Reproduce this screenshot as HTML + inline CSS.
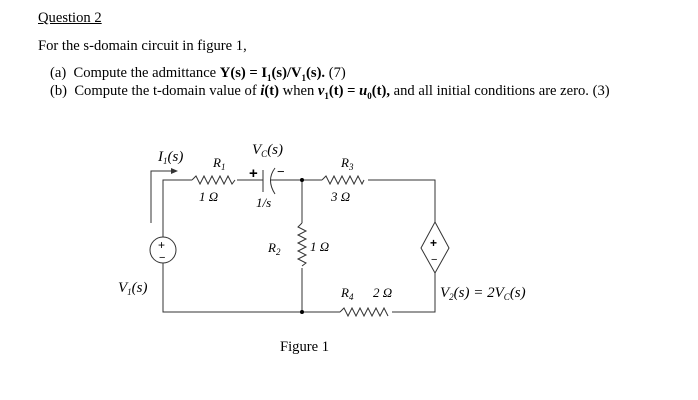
<!DOCTYPE html>
<html><head><style>
body{margin:0;width:698px;height:400px;background:#fff;overflow:hidden;font-family:"Liberation Serif",serif;color:#000}
.t{position:absolute;font-size:14.6px;white-space:nowrap}
</style></head><body>
<div class="t" style="left:38px;top:10px;text-decoration:underline">Question 2</div>
<div class="t" style="left:38px;top:38px">For the s-domain circuit in figure 1,</div>
<div class="t" style="left:50px;top:65px">(a)&nbsp; Compute the admittance <b>Y(s) = I<sub style="font-size:9px">1</sub>(s)/V<sub style="font-size:9px">1</sub>(s).</b> (7)</div>
<div class="t" style="left:50px;top:83px">(b)&nbsp; Compute the t-domain value of <b><i>i</i>(t)</b> when <b><i>v</i><sub style="font-size:9px">1</sub>(t) = <i>u</i><sub style="font-size:9px">0</sub>(t),</b> and all initial conditions are zero. (3)</div>
<div class="t" style="left:280px;top:339px">Figure 1</div>
<svg width="698" height="400" style="position:absolute;left:0;top:0" font-family="Liberation Serif, serif" font-style="italic">
<g fill="none" stroke="#333" stroke-width="1">
<path d="M163 237V180H192 M237 180H263 M270 180H322 M368 180H435V222 M435 273V312H392 M340 312H163V263 M302 180V223 M302 268V312"/>
<path d="M192 180l4-4 4 8 4-8 4 8 4-8 4 8 4-8 4 8 4-8 4 8 3-4"/>
<path d="M322 180l4-4 4 8 4-8 4 8 4-8 4 8 4-8 4 8 4-8 4 8 2-4"/>
<path d="M340 312l4-4 4 8 4-8 4 8 4-8 4 8 4-8 4 8 4-8 4 8 4-8 4 8"/>
<path d="M302 223l-4 4 8 4-8 4 8 4-8 4 8 4-8 4 8 4-8 4 8 4-4 3"/>
<path d="M263 170V192 M275 168Q266 180 275 194"/>
<circle cx="163" cy="250" r="13"/>
<path d="M435 222L449 248 435 273 421 248Z"/>
<path d="M151 223V171H174"/>
</g>
<path d="M178 171l-7-3v6z" fill="#333"/>
<circle cx="302" cy="180" r="2" fill="#000"/><circle cx="302" cy="312" r="2" fill="#000"/>
<g font-size="13" fill="#000" stroke="none">
<text x="158" y="161" font-size="15">I<tspan font-size="9" dy="3">1</tspan><tspan dy="-3">(s)</tspan></text>
<text x="252" y="154" font-size="15">V<tspan font-size="9" dy="3">C</tspan><tspan dy="-3">(s)</tspan></text>
<text x="213" y="167">R<tspan font-size="9" dy="3">1</tspan></text>
<text x="341" y="167">R<tspan font-size="9" dy="3">3</tspan></text>
<text x="199" y="201">1 Ω</text>
<text x="256" y="207">1/s</text>
<text x="331" y="201">3 Ω</text>
<text x="268" y="252">R<tspan font-size="9" dy="3">2</tspan></text>
<text x="310" y="251">1 Ω</text>
<text x="341" y="297">R<tspan font-size="9" dy="3">4</tspan></text>
<text x="373" y="297">2 Ω</text>
<text x="118" y="292" font-size="15">V<tspan font-size="9" dy="3">1</tspan><tspan dy="-3">(s)</tspan></text>
<text x="440" y="297" font-size="15">V<tspan font-size="9" dy="3">2</tspan><tspan dy="-3">(s) = 2V</tspan><tspan font-size="9" dy="3">C</tspan><tspan dy="-3">(s)</tspan></text>
</g>
<g font-family="Liberation Sans, sans-serif" font-style="normal" fill="#000">
<text x="249" y="178" font-size="15" font-weight="bold">+</text>
<text x="277" y="176" font-size="13">−</text>
<text x="158" y="249" font-size="12">+</text><text x="159" y="261" font-size="11">−</text>
<text x="430" y="247" font-size="12" font-weight="bold">+</text><text x="431" y="263" font-size="11">−</text>
</g>
</svg>
</body></html>
